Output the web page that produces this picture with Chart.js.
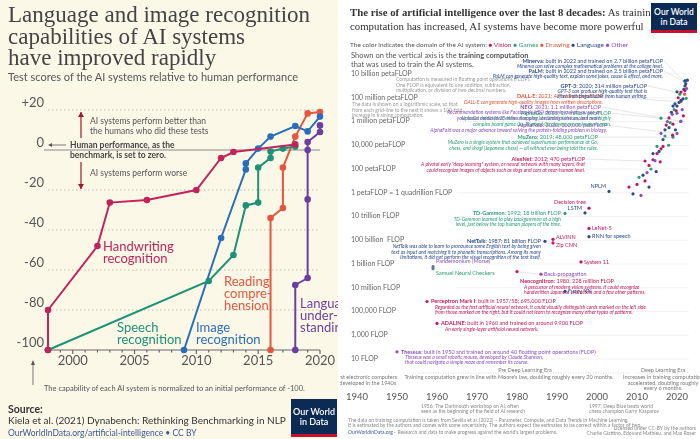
<!DOCTYPE html>
<html><head><meta charset="utf-8">
<script src="https://cdn.jsdelivr.net/npm/chart.js@4"></script>
<style>
body{margin:0;width:700px;height:439px;overflow:hidden;font-family:Lato,"Open Sans",sans-serif;position:relative}
#left{position:absolute;left:0;top:0;width:338px;height:439px;background:#fcf8e8;overflow:hidden}
#right{position:absolute;left:340px;top:0;width:360px;height:439px;background:#fff}
canvas{position:absolute;left:0;top:0}
.t{position:absolute;white-space:nowrap}
.logo{position:absolute;background:#0b2b55;color:#fff;font:600 9px Lato;line-height:10px;text-align:center;border-bottom:3px solid #c8102e;box-sizing:border-box}
</style></head><body>
<div id="left">
  <canvas id="c1" width="338" height="439"></canvas>
  <div class="t" style="left:8px;top:4px;font:23px/21.5px 'Liberation Serif',serif;color:#444">Language and image recognition<br>capabilities of AI systems<br>have improved rapidly</div>
  <div class="t" style="left:8px;top:70px;font:11px Lato;color:#555">Test scores of the AI systems relative to human performance</div>
  <div class="t" style="left:44px;top:384px;font:7.5px Lato;color:#555">The capability of each AI system is normalized to an initial performance of -100.</div>
  <div class="t" style="left:8px;top:403px;font:bold 10.5px Lato;color:#333">Source:</div>
  <div class="t" style="left:8px;top:414px;font:10px Lato;color:#333">Kiela et al. (2021) Dynabench: Rethinking Benchmarking in NLP</div>
  <div class="t" style="left:8px;top:428px;font:8.5px Lato;color:#3a5a9a">OurWorldInData.org/artificial-intelligence • CC BY</div>
  <div class="logo" style="left:291px;top:399px;width:46px;height:38px;padding-top:8px">Our World<br>in Data</div>
</div>
<div id="right">
  <canvas id="c2" width="360" height="439"></canvas>
  <div class="t" style="left:10px;top:6px;font:10.8px/13.5px 'Liberation Serif',serif;color:#333"><b>The rise of artificial intelligence over the last 8 decades:</b> As training<br>computation has increased, AI systems have become more powerful</div>
  <div class="logo" style="left:311px;top:3px;width:46px;height:30px;padding-top:4px;font-size:8.5px">Our World<br>in Data</div>
  <div class="t" style="left:10px;top:41px;font:6.5px Lato;color:#555">The color indicates the domain of the AI system: <span style="color:#c2185b">● Vision</span> <span style="color:#2a9d74">● Games</span> <span style="color:#e0573a">● Drawing</span> <span style="color:#2c4a8c">● Language</span> <span style="color:#8a4fbf">● Other</span></div>
  <div class="t" style="left:11px;top:52px;font:7.5px/8.5px Lato;color:#555">Shown on the vertical axis is the <b>training computation</b><br>that was used to train the AI systems.</div>
</div>
<script>
// ---------- left chart data ----------
const leftYTicks = [20, 0, -20, -40, -60, -80, -100];
const leftYLabels = ['+20', '0', '-20', '-40', '-60', '-80', '-100'];
const leftXTicks = [2000, 2005, 2010, 2015, 2020];
const handwriting = [[1998,-100],[1998,-80],[2002,-48],[2003,-26.3],[2006,-25],[2010,-20],[2012,-4],[2013,-1],[2018,2.8]];
const speech = [[1998,-100],[2011,-65.5],[2013,-52.5],[2014,-27.7],[2015,-26.3],[2015,-8.8],[2016,-4],[2016,-0.8],[2017,0.7],[2018,1.7]];
const image = [[2009,-100],[2012,-44],[2014,-9.7],[2014,-6.7],[2015,0.7],[2016,6.7],[2018,12],[2019,9.3],[2020,16.7]];
const reading = [[2016,-100],[2016,-34],[2017,-29],[2017,-8.8],[2018,6.7],[2019,18.3],[2020,19]];
const language = [[2018,-100],[2018,-67.5],[2019,-64],[2019,-24.7],[2019,0],[2019,4],[2020,9],[2020,12.3]];

const toXY = a => a.map(([x, y]) => ({x, y}));
const ds = (d, c) => ({data: toXY(d), borderColor: c, backgroundColor: c, borderWidth: 2, pointRadius: 2.3, tension: 0});

const leftDeco = {
  id: 'leftDeco',
  beforeDatasetsDraw(ch) {
    const {ctx, chartArea: a, scales: {x, y}} = ch;
    ctx.save();
    ctx.setLineDash([1.5, 2.5]); ctx.strokeStyle = '#bbb'; ctx.lineWidth = 1;
    leftYTicks.forEach(v => { if (v === 0 || v === -100) return; const py = y.getPixelForValue(v); ctx.beginPath(); ctx.moveTo(a.left, py); ctx.lineTo(a.right, py); ctx.stroke(); });
    ctx.setLineDash([]);
    ctx.strokeStyle = '#888'; ctx.lineWidth = 1.2;
    let py = y.getPixelForValue(0); ctx.beginPath(); ctx.moveTo(a.left - 4, py); ctx.lineTo(a.right, py); ctx.stroke();
    py = y.getPixelForValue(-100); ctx.strokeStyle = '#666'; ctx.beginPath(); ctx.moveTo(a.left - 4, py); ctx.lineTo(a.right, py); ctx.stroke();
    for (let yr = 1998; yr <= 2020; yr++) { const px = x.getPixelForValue(yr); ctx.beginPath(); ctx.moveTo(px, py); ctx.lineTo(px, py + (yr % 5 === 0 ? 4 : 2.5)); ctx.stroke(); }
    ctx.fillStyle = '#555'; ctx.font = '13px Lato'; ctx.textAlign = 'right'; ctx.textBaseline = 'middle';
    leftYTicks.forEach((v, i) => ctx.fillText(leftYLabels[i], a.left - 4, y.getPixelForValue(v) - 7));
    ctx.textAlign = 'center'; ctx.textBaseline = 'top';
    leftXTicks.forEach(v => ctx.fillText(v, x.getPixelForValue(v), py + 4));
    // annotations
    ctx.strokeStyle = '#a3172e'; ctx.fillStyle = '#a3172e'; ctx.lineWidth = 1.2;
    const ax = 81;
    const arrow = (y1, y2) => { ctx.beginPath(); ctx.moveTo(ax, y1); ctx.lineTo(ax, y2); ctx.stroke(); const d = y2 < y1 ? 1 : -1; ctx.beginPath(); ctx.moveTo(ax, y2); ctx.lineTo(ax - 3, y2 + 5 * d); ctx.lineTo(ax + 3, y2 + 5 * d); ctx.fill(); };
    arrow(138, 112); arrow(162, 189);
    ctx.fillStyle = '#555'; ctx.font = '8.5px Lato'; ctx.textAlign = 'left'; ctx.textBaseline = 'middle';
    ctx.fillText('AI systems perform better than', 90, 121); ctx.fillText('the humans who did these tests', 90, 131);
    ctx.fillText('AI systems perform worse', 90, 173);
    ctx.font = 'bold 8.5px Lato'; ctx.fillStyle = '#444';
    ctx.fillText('Human performance, as the', 70, 145); ctx.fillText('benchmark, is set to zero.', 70, 155);
    ctx.strokeStyle = '#555'; ctx.lineWidth = 0.8; ctx.beginPath(); ctx.moveTo(50, 145); ctx.lineTo(66, 145); ctx.stroke();
    ctx.beginPath(); ctx.moveTo(48, 145); ctx.lineTo(52, 143); ctx.lineTo(52, 147); ctx.fillStyle = '#555'; ctx.fill();
    ctx.beginPath(); ctx.moveTo(33, 385); ctx.lineTo(33, 362); ctx.stroke();
    ctx.beginPath(); ctx.moveTo(33, 360); ctx.lineTo(31, 365); ctx.lineTo(35, 365); ctx.fill();
    ctx.font = '13px Lato';
    const lab = (lines, px, py0, c) => { ctx.fillStyle = c; lines.forEach((s, i) => ctx.fillText(s, px, py0 + i * 12)); };
    lab(['Handwriting', 'recognition'], 103, 247, '#c0245a');
    lab(['Speech', 'recognition'], 117, 328, '#1d9277');
    lab(['Image', 'recognition'], 196, 328, '#2a6ebb');
    lab(['Reading', 'compre-', 'hension'], 224, 282, '#e5563c');
    lab(['Language', 'under-', 'standing'], 300, 304, '#6b3fa0');
    ctx.restore();
  }
};

new Chart(document.getElementById('c1'), {
  type: 'line',
  data: {datasets: [ds(handwriting, '#c0245a'), ds(speech, '#1d9277'), ds(image, '#2a6ebb'), ds(reading, '#e5563c'), ds(language, '#6b3fa0')]},
  options: {
    responsive: false, animation: false, clip: false,
    layout: {padding: {left: 48, right: 18, top: 110, bottom: 89}},
    plugins: {legend: {display: false}, tooltip: {enabled: false}},
    scales: {x: {type: 'linear', min: 1998, max: 2020, display: false}, y: {min: -100, max: 20, display: false}}
  },
  plugins: [leftDeco]
});

// ---------- right chart data ----------
const domainColors = {Vision: '#c2185b', Games: '#2a9d74', Drawing: '#e0573a', Language: '#2c4a8c', Other: '#8a4fbf'};
const systemNames = ['Theseus','Perceptron Mark I','ADALINE','Pandemonium (Morse)','Samuel Neural Checkers','Neocognitron','Back-propagation','Fuzzy NN','System 11','NetTalk','ALVINN','Zip CNN','RNN for speech','LeNet-5','TD-Gammon','LSTM','Decision tree','NPLM','AlexNet','MuZero','AlphaFold','AlphaGo','NEO','DALL-E','GPT-3','PaLM','Minerva'];
const systemYears = [1950,1957.5,1960,1959,1959,1980,1986,1992,1996,1987,1989,1989,1998,1998,1992,1997,1998,2003,2012,2019,2020,2016,2021,2021,2020,2022,2022];
const systemFlop = [40,6.95e5,9.9e3,6e8,4e8,2.28e8,1.4e8,5e6,1.5e9,8.1e10,1.2e11,6e10,2e11,1e12,1.8e13,2e13,5e13,1.3e15,4.7e17,4.8e19,1e20,1.9e21,1.1e21,4.7e22,3.14e23,2.5e24,2.7e24];
const systemDomains = ['Other','Vision','Vision','Other','Games','Vision','Other','Language','Vision','Language','Vision','Vision','Language','Vision','Games','Language','Vision','Language','Vision','Games','Other','Games','Other','Drawing','Language','Language','Language'];
// unlabeled systems of the deep learning era
const otherYears = [2008,2009,2010,2010.5,2011,2011.5,2012,2012.5,2013,2013,2013.5,2014,2014,2014.5,2015,2015,2015.5,2016,2016,2016.5,2016.5,2017,2017,2017.3,2017.6,2018,2018,2018.3,2018.6,2018.8,2019,2019,2019.3,2019.5,2019.8,2020,2020,2020.3,2020.5,2020.7,2021,2021,2021.3,2021.5,2021.7,2021.9,2022,2022,2022.2,2022.4,2022.6,2022.3,2021.6,2020.9,2019.6,2018.9,2017.9,2015.8,2014.8];
const otherFlop = [3e15,8e14,5e15,2e16,6e14,3e16,1e16,5e16,2e17,3e15,1e17,6e17,2e18,5e17,2e18,8e18,3e18,5e18,1e20,3e19,8e18,2e20,6e19,5e20,1e21,3e20,2e21,8e20,6e21,4e21,2e22,6e20,1e22,3e22,8e21,5e21,2e22,1e23,4e22,2e23,6e22,3e23,1e22,8e22,5e23,2e23,1e24,4e23,1.5e24,6e23,3e24,9e22,3e21,1e21,2e20,7e19,1e19,4e17,6e16];
const otherDomains = ['Vision','Language','Vision','Games','Other','Language','Vision','Other','Vision','Language','Games','Vision','Language','Other','Vision','Games','Language','Vision','Other','Language','Vision','Language','Games','Vision','Other','Language','Vision','Games','Language','Other','Language','Vision','Games','Language','Vision','Other','Language','Vision','Language','Games','Language','Vision','Other','Language','Language','Drawing','Language','Vision','Language','Other','Language','Games','Vision','Other','Language','Vision','Games','Vision','Language'];
const yTickValues = [1e25,1e23,1e21,1e19,1e17,1e15,1e13,1e11,1e9,1e7,1e5,1e3,1e1];
const yTickLabels = ['10 billion petaFLOP','100 million petaFLOP','1 million petaFLOP','10,000 petaFLOP','100 petaFLOP','1 petaFLOP = 1 quadrillion FLOP','10 trillion FLOP','100 billion  FLOP','1 billion FLOP','10 million FLOP','100,000 FLOP','1,000 FLOP','10 FLOP'];
const xTickValues = [1940,1950,1960,1970,1980,1990,2000,2010,2020];

// [name, title, description lines, x offset px, y offset px, align]
const notes = [
  ['Theseus', ': built in 1950 and trained on around 40 floating point operations (FLOP)', ['Theseus was a small robotic mouse, developed by Claude Shannon,', 'that could navigate a simple maze and remember its course.'], 4, 0, 'left'],
  ['Perceptron Mark I', ': built in 1957/58; 695,000 FLOP', ['Regarded as the first artificial neural network, it could visually distinguish cards marked on the left side', 'from those marked on the right, but it could not learn to recognize many other types of patterns.'], 4, 0, 'left'],
  ['ADALINE', ': built in 1960 and trained on around 9,900 FLOP', ['An early single-layer artificial neural network.'], 4, 0, 'left'],
  ['Neocognitron', ': 1980; 228 million FLOP', ['A precursor of modern vision systems. It could recognize', 'handwritten Japanese characters and a few other patterns.'], 3, 10, 'left'],
  ['NetTalk', ': 1987; 81 billion FLOP', ['NetTalk was able to learn to pronounce some English text by being given', 'text as input and matching it to phonetic transcriptions. Among its many', 'limitations, it did not perform the visual recognition of the text itself.'], -4, 0, 'right'],
  ['TD-Gammon', ': 1992; 18 trillion FLOP', ['TD-Gammon learned to play backgammon at a high', 'level, just below the top human players of the time.'], -4, 0, 'right'],
  ['AlexNet', ': 2012; 470 petaFLOP', ['A pivotal early "deep learning" system, or neural network with many layers, that', 'could recognize images of objects such as dogs and cars at near-human level.'], -60, -2, 'right'],
  ['MuZero', ': 2019; 48,000 petaFLOP', ['MuZero is a single system that achieved superhuman performance at Go,', 'chess, and shogi (Japanese chess) — all without ever being told the rules.'], -75, 0, 'right'],
  ['AlphaFold', ': 2020; 100,000 petaFLOP', ['AlphaFold was a major advance toward solving the protein-folding problem in biology.'], -70, -8, 'right'],
  ['AlphaGo', ': 2016; 1.9 million petaFLOP', ['AlphaGo defeated 18-time champion Lee Sedol at the ancient and highly', 'complex board game Go. The best Go players are no longer human.'], -50, -5, 'right'],
  ['NEO', ': 2021; 1.1 million petaFLOP', ['Recommendation systems like Facebook\'s NEO determine what you see on', 'your social media feed, online shopping, streaming services, and more.'], -80, -14, 'right'],
  ['DALL-E', ': 2021; 47 million petaFLOP', ['DALL-E can generate high-quality images from written descriptions.'], -78, -5, 'right'],
  ['GPT-3', ': 2020; 314 million petaFLOP', ['GPT-3 can produce high-quality text that is', 'often indistinguishable from human writing.'], -30, -6, 'right'],
  ['PaLM', ': built in 2022 and trained on 2.5 billion petaFLOP', ['PaLM can generate high-quality text, explain some jokes, cause & effect, and more.'], -22, -10, 'right'],
  ['Minerva', ': built in 2022 and trained on 2.7 billion petaFLOP', ['Minerva can solve complex mathematical problems at the college level.'], -22, -20, 'right']
];
const shortLabels = {'Pandemonium (Morse)': [3, -5], 'Samuel Neural Checkers': [3, 4], 'Back-propagation': [3, 0], 'Fuzzy NN': [3, 0], 'System 11': [3, 0], 'ALVINN': [3, -2], 'Zip CNN': [3, 2], 'RNN for speech': [3, 0], 'LeNet-5': [3, 0], 'LSTM': [-3, -5], 'Decision tree': [-3, -6], 'NPLM': [-3, -5]};

const rightDeco = {
  id: 'rightDeco',
  beforeDatasetsDraw(ch) {
    const {ctx, chartArea: a, scales: {x, y}} = ch;
    ctx.save();
    ctx.font = '7px Lato'; ctx.fillStyle = '#666'; ctx.textBaseline = 'bottom'; ctx.textAlign = 'left';
    yTickValues.forEach((v, i) => {
      const py = y.getPixelForValue(v);
      ctx.strokeStyle = '#f0f0f0'; ctx.lineWidth = 0.8; ctx.beginPath(); ctx.moveTo(a.left + 100, py); ctx.lineTo(a.right, py); ctx.stroke();
      ctx.fillText(yTickLabels[i], 11, py + 3);
    });
    ctx.font = '5px Lato'; ctx.fillStyle = '#999';
    ['Computation is measured in floating point operations (FLOP).', 'One FLOP is equivalent to one addition, subtraction,', 'multiplication, or division of two decimal numbers.'].forEach((s, i) => ctx.fillText(s, 56, 82 + i * 5.5));
    ['The data is shown on a logarithmic scale, so that', 'from each grid-line to the next it shows a 100-fold', 'increase in training computation.'].forEach((s, i) => ctx.fillText(s, 12, 107 + i * 5.5));
    // eras and x axis
    const by = a.bottom;
    ctx.strokeStyle = '#ccc'; ctx.setLineDash([1, 1.5]);
    ctx.beginPath(); ctx.moveTo(x.getPixelForValue(1954), by + 14); ctx.lineTo(x.getPixelForValue(2008), by + 14); ctx.stroke();
    ctx.beginPath(); ctx.moveTo(x.getPixelForValue(2010), by + 14); ctx.lineTo(a.right, by + 14); ctx.stroke();
    ctx.setLineDash([]);
    ctx.fillStyle = '#777'; ctx.font = '5.5px Lato'; ctx.textAlign = 'center';
    ctx.fillText('Pre Deep Learning Era', x.getPixelForValue(1982), by + 14);
    ctx.fillText('Training computation grew in line with Moore\'s law, doubling roughly every 20 months.', x.getPixelForValue(1978), by + 21);
    ctx.fillText('Deep Learning Era', x.getPixelForValue(2016.5), by + 14);
    ['Increases in training computation', 'accelerated, doubling roughly', 'every 6 months.'].forEach((s, i) => ctx.fillText(s, x.getPixelForValue(2016.5), by + 21 + i * 5.5));
    ctx.fillText('The first electronic computers', x.getPixelForValue(1941), by + 21);
    ctx.fillText('were developed in the 1940s', x.getPixelForValue(1941), by + 26.5);
    ctx.font = '9.5px Lato'; ctx.fillStyle = '#555';
    xTickValues.forEach(v => ctx.fillText(v, x.getPixelForValue(v), by + 43));
    ctx.font = '5px Lato'; ctx.fillStyle = '#888'; ctx.textAlign = 'left';
    ctx.fillText('1956: The Dartmouth workshop on AI, often', x.getPixelForValue(1956), by + 50);
    ctx.fillText('seen as the beginning of the field of AI research', x.getPixelForValue(1956), by + 55);
    ctx.fillText('1997: Deep Blue beats world', x.getPixelForValue(1998), by + 50);
    ctx.fillText('chess champion Garry Kasparov', x.getPixelForValue(1998), by + 55);
    ctx.fillText('The data on training computation is taken from Sevilla et al. (2022) – Parameter, Compute, and Data Trends in Machine Learning.', 8, 423);
    ctx.fillText('It is estimated by the authors and comes with some uncertainty. The authors expect the estimates to be correct within a factor of two.', 8, 428);
    ctx.fillStyle = '#3a5a9a'; ctx.fillText('OurWorldinData.org', 8, 435);
    ctx.fillStyle = '#888'; ctx.fillText(' – Research and data to make progress against the world\'s largest problems.', 52, 435);
    ctx.textAlign = 'right';
    ctx.fillText('Licensed under CC-BY by the authors', 356, 431);
    ctx.fillText('Charlie Giattino, Edouard Mathieu, and Max Roser', 356, 436);
    // labels
    systemNames.forEach((n, i) => {
      const px = x.getPixelForValue(systemYears[i]), py = y.getPixelForValue(systemFlop[i]);
      const c = domainColors[systemDomains[i]];
      const note = notes.find(d => d[0] === n);
      if (note) {
        const [, t, lines, dx, dy, al] = note;
        ctx.textAlign = 'left'; ctx.textBaseline = 'middle';
        ctx.font = 'bold 5.5px Lato'; const w1 = ctx.measureText(n).width;
        ctx.font = '5.5px Lato'; const w2 = ctx.measureText(t).width;
        let tx = px + dx; if (al === 'right') tx -= w1 + w2;
        const ty = py + dy;
        if (Math.abs(dx) > 10 || Math.abs(dy) > 6) { ctx.strokeStyle = '#ccc'; ctx.lineWidth = 0.5; ctx.beginPath(); ctx.moveTo(tx + w1 + w2 + 1, ty); ctx.lineTo(px - 2, py); ctx.stroke(); }
        ctx.fillStyle = c; ctx.font = 'bold 5.5px Lato'; ctx.fillText(n, tx, ty);
        ctx.font = '5.5px Lato'; ctx.fillText(t, tx + w1, ty);
        ctx.font = 'italic 5px Lato'; ctx.textAlign = al === 'right' ? 'right' : 'left';
        const lx = al === 'right' ? tx + w1 + w2 : tx + 4;
        lines.forEach((s, k) => ctx.fillText(s, lx, ty + 5.5 * (k + 1)));
      } else if (shortLabels[n]) {
        const [dx, dy] = shortLabels[n];
        ctx.fillStyle = c; ctx.font = '5.5px Lato'; ctx.textBaseline = 'middle';
        ctx.textAlign = dx < 0 ? 'right' : 'left';
        ctx.fillText(n, px + dx, py + dy);
      }
    });
    ctx.restore();
  }
};

const pts = (ys, fs) => ys.map((v, i) => ({x: v, y: fs[i]}));
new Chart(document.getElementById('c2'), {
  type: 'scatter',
  data: {datasets: [
    {data: pts(otherYears, otherFlop), pointRadius: 1.6, borderWidth: 0, backgroundColor: otherDomains.map(d => domainColors[d])},
    {data: pts(systemYears, systemFlop), pointRadius: 1.6, borderWidth: 0, backgroundColor: systemDomains.map(d => domainColors[d])}
  ]},
  options: {
    responsive: false, animation: false, clip: false,
    layout: {padding: {left: 17, right: 11, top: 74, bottom: 80}},
    plugins: {legend: {display: false}, tooltip: {enabled: false}},
    scales: {x: {type: 'linear', min: 1940, max: 2023, display: false}, y: {type: 'logarithmic', min: 10, max: 1e25, display: false}}
  },
  plugins: [rightDeco]
});
</script>
</body></html>
